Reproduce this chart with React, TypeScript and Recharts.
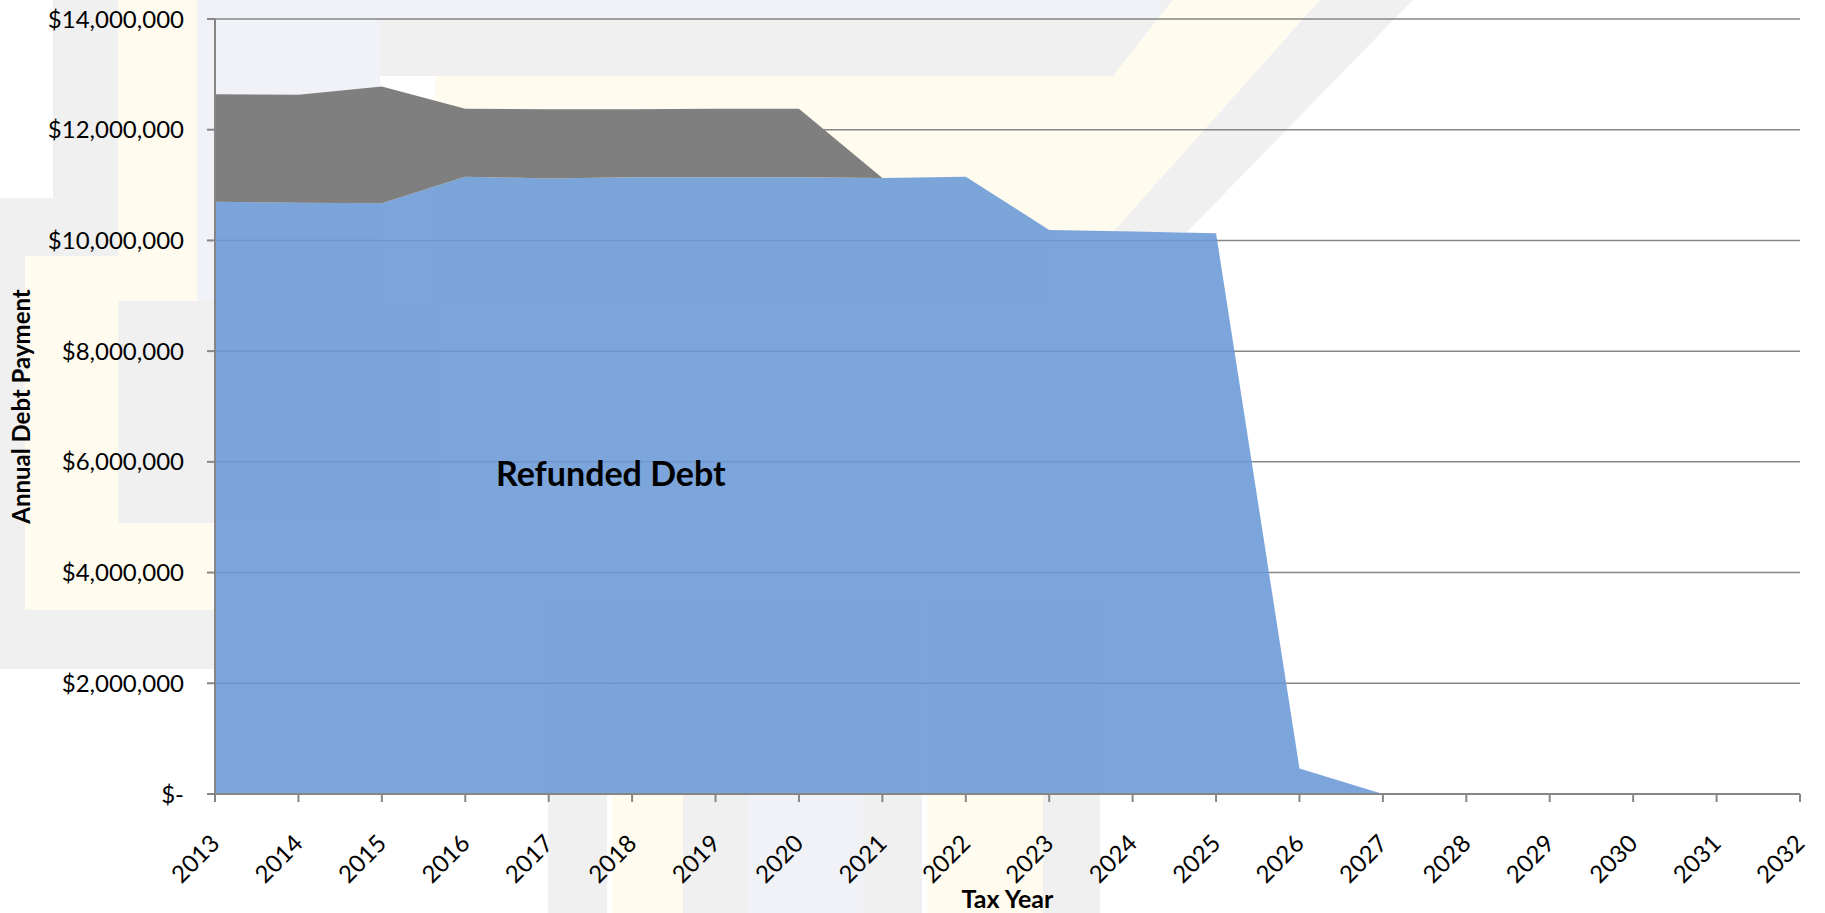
import { AreaChart, Area, XAxis, YAxis, CartesianGrid, Label } from 'recharts'

// Tax years on the x axis
const years = [
    '2013', '2014', '2015', '2016', '2017', '2018', '2019', '2020', '2021', '2022',
    '2023', '2024', '2025', '2026', '2027', '2028', '2029', '2030', '2031', '2032',
]

// Annual payment on the refunded debt (blue, bottom of the stack)
const refundedDebt = [
    10700000, 10680000, 10670000, 11150000, 11120000, 11140000, 11140000, 11140000, 11130000, 11150000,
    10190000, 10160000, 10130000, 460000, 0, 0, 0, 0, 0, 0,
]

// Remaining payment stacked on top (grey)
const otherDebt = [
    1940000, 1950000, 2110000, 1230000, 1250000, 1230000, 1240000, 1240000, 0, 0,
    0, 0, 0, 0, 0, 0, 0, 0, 0, 0,
]

const yTicks = [0, 2000000, 4000000, 6000000, 8000000, 10000000, 12000000, 14000000]

const data = years.map((year, i) => ({
    year,
    refunded: refundedDebt[i],
    other: otherDebt[i],
}))

const font = 'Lato, "Open Sans", sans-serif'
const axisGrey = '#868686'

const money = (v: number) => (v === 0 ? '$-' : '$' + v.toLocaleString('en-US'))

function YearTick(props: any) {
    const { x, y, payload } = props
    return (
        <g transform={`translate(${x + 6},${y + 41})`}>
            <text textAnchor="end" transform="rotate(-45)" fontSize={24} fontFamily={font} fill="#000">
                {payload.value}
            </text>
        </g>
    )
}

// faint logo watermark behind the chart
function Watermark() {
    const gray = '#f0f0f0'
    const cream = '#fffbef'
    const blue = '#f0f2f7'
    return (
        <svg width={1825} height={913} style={{ position: 'absolute', left: 0, top: 0 }}>
            <rect x={197} y={0} width={963} height={19} fill={blue} />
            <rect x={197} y={0} width={183} height={523} fill={blue} />
            <rect x={53} y={0} width={65} height={198} fill={gray} />
            <rect x={118} y={0} width={79} height={301} fill={cream} />
            <rect x={0} y={198} width={118} height={58} fill={gray} />
            <rect x={0} y={256} width={25} height={354} fill={gray} />
            <rect x={25} y={256} width={93} height={354} fill={cream} />
            <rect x={118} y={301} width={322} height={222} fill={gray} />
            <rect x={118} y={523} width={95} height={87} fill={cream} />
            <rect x={0} y={610} width={215} height={59} fill={gray} />
            <polygon points="380,19 1160,19 1160,0 1173,0 1113,76 380,76" fill={gray} />
            <polygon points="435,76 1113,76 1173,0 1320,0 1113,232 1050,232 1050,300 435,300" fill={cream} />
            <polygon points="1320,0 1413,0 1187,232 1113,232" fill={gray} />
            <rect x={548} y={600} width={59} height={313} fill={gray} />
            <rect x={612} y={600} width={71} height={313} fill={cream} />
            <rect x={683} y={600} width={65} height={313} fill={gray} />
            <rect x={748} y={600} width={115} height={313} fill={blue} />
            <rect x={863} y={600} width={59} height={313} fill={gray} />
            <rect x={927} y={600} width={116} height={313} fill={cream} />
            <rect x={1043} y={600} width={57} height={313} fill={gray} />
        </svg>
    )
}

export default function App() {
    return (
        <div style={{ position: 'absolute', left: 0, top: 0, width: 1825, height: 913, background: '#fff', overflow: 'hidden' }}>
            <Watermark />
            <div style={{ position: 'absolute', left: 0, top: 0 }}>
                <AreaChart width={1825} height={913} data={data} margin={{ top: 19, right: 25, bottom: 0, left: 0 }}>
                    <CartesianGrid vertical={false} stroke={axisGrey} strokeWidth={1.5} />
                    <XAxis
                        dataKey="year"
                        interval={0}
                        height={119}
                        tick={<YearTick />}
                        tickSize={8}
                        tickLine={{ stroke: axisGrey, strokeWidth: 2 }}
                        axisLine={{ stroke: axisGrey, strokeWidth: 2 }}
                    >
                        <Label
                            value="Tax Year"
                            position="insideBottom"
                            offset={5}
                            style={{ fontFamily: font, fontSize: 25, fontWeight: 700, fill: '#000' }}
                        />
                    </XAxis>
                    <YAxis
                        width={215}
                        domain={[0, 14000000]}
                        ticks={yTicks}
                        interval={0}
                        tickFormatter={money}
                        tickSize={8}
                        tickMargin={23}
                        tick={{ fontFamily: font, fontSize: 24, fill: '#000' }}
                        tickLine={{ stroke: axisGrey, strokeWidth: 2 }}
                        axisLine={{ stroke: axisGrey, strokeWidth: 2 }}
                    >
                        <Label
                            content={(p: any) => {
                                const vb = p.viewBox
                                const cy = vb.y + vb.height / 2
                                return (
                                    <text
                                        x={20}
                                        y={cy}
                                        transform={`rotate(-90 20 ${cy})`}
                                        textAnchor="middle"
                                        dominantBaseline="central"
                                        fontFamily={font}
                                        fontSize={24}
                                        fontWeight={700}
                                        fill="#000"
                                    >
                                        Annual Debt Payment
                                    </text>
                                )
                            }}
                        />
                    </YAxis>
                    <Area
                        type="linear"
                        dataKey="refunded"
                        name="Refunded Debt"
                        stackId="debt"
                        fill="#6999d6"
                        fillOpacity={0.88}
                        stroke="none"
                        dot={false}
                        activeDot={false}
                        isAnimationActive={false}
                    />
                    <Area
                        type="linear"
                        dataKey="other"
                        name="Other Debt"
                        stackId="debt"
                        fill="#7f7f7f"
                        fillOpacity={1}
                        stroke="none"
                        dot={false}
                        activeDot={false}
                        isAnimationActive={false}
                    />
                </AreaChart>
            </div>
            <div
                style={{
                    position: 'absolute',
                    left: 496,
                    top: 454,
                    fontFamily: font,
                    fontSize: 34,
                    fontWeight: 700,
                    lineHeight: '38px',
                    color: '#000',
                    whiteSpace: 'nowrap',
                }}
            >
                Refunded Debt
            </div>
        </div>
    )
}
